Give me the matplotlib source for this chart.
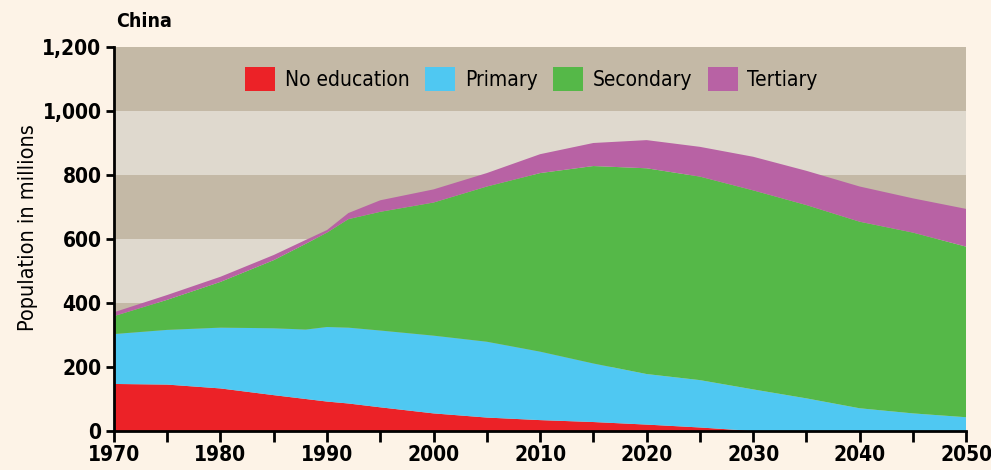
import numpy as np
import matplotlib
matplotlib.use("Agg")
import matplotlib.pyplot as plt
from matplotlib.patches import Patch

plt.rcParams['font.family'] = ['DejaVu Sans']
plt.rcParams['font.stretch'] = 'condensed'

# population by education level, millions
years = [1970, 1975, 1980, 1985, 1988, 1990, 1992, 1995, 2000, 2005,
         2010, 2015, 2020, 2025, 2030, 2035, 2040, 2045, 2050]
no_education = [147, 145, 133, 112, 100, 92, 86, 74, 55, 42,
                34, 28, 20, 11, 0, 0, 0, 0, 0]
primary = [156, 171, 190, 209, 217, 233, 237, 240, 243, 237,
           214, 183, 158, 148, 130, 102, 71, 55, 43]
secondary = [56, 94, 143, 213, 268, 295, 339, 371, 416, 485,
             558, 617, 643, 636, 622, 604, 583, 565, 533]
tertiary = [12, 15, 16, 16, 12, 8, 19, 36, 41, 42,
            59, 72, 88, 93, 105, 107, 110, 107, 118]

labels = ['No education', 'Primary', 'Secondary', 'Tertiary']
colors = ['#ec2227', '#4fc8f2', '#55b848', '#b862a4']
yticks = [0, 200, 400, 600, 800, 1000, 1200]
xticks = [1970, 1980, 1990, 2000, 2010, 2020, 2030, 2040, 2050]

bg = '#fdf3e7'
band_dark = '#c4b9a6'
band_light = '#dfd9ce'

fig = plt.figure(figsize=(9.91, 4.70), dpi=100, facecolor=bg)
ax = fig.add_axes([0.115, 0.083, 0.86, 0.817])
ax.set_facecolor(bg)

# alternating horizontal bands
for i in range(len(yticks) - 1):
    c = band_light if i % 2 == 0 else band_dark
    ax.axhspan(yticks[i], yticks[i + 1], color=c, lw=0, zorder=0)

ax.stackplot(years, no_education, primary, secondary, tertiary,
             colors=colors, lw=0, zorder=2)

ax.set_xlim(1970, 2050)
ax.set_ylim(0, 1200)
ax.set_yticks(yticks)
ax.set_yticklabels(['{:,}'.format(v) for v in yticks])
ax.set_xticks(xticks)
ax.set_xticks(np.arange(1975, 2050, 10), minor=True)

for s in ['top', 'right']:
    ax.spines[s].set_visible(False)
for s in ['left', 'bottom']:
    ax.spines[s].set_linewidth(2)
    ax.spines[s].set_zorder(5)

ax.tick_params(axis='y', length=6, width=2, labelsize=15, pad=3)
ax.tick_params(axis='x', which='both', length=8, width=2, labelsize=15, pad=2)
for t in ax.get_xticklabels() + ax.get_yticklabels():
    t.set_fontweight('bold')

ax.set_ylabel('Population in millions', fontsize=15.5)
ax.yaxis.set_label_coords(-0.089, 0.53)

handles = [Patch(facecolor=c, edgecolor='none') for c in colors]
ax.legend(handles, labels, loc='upper center', bbox_to_anchor=(0.49, 1.0),
          ncol=4, frameon=False, fontsize=15, handlelength=1.45,
          handleheight=1.4, handletextpad=0.45, columnspacing=0.75,
          borderaxespad=0.55)

fig.text(0.117, 0.955, 'China', fontsize=14, fontweight='bold',
         va='center', ha='left')

fig.savefig('out.png', dpi=100, facecolor=bg)
